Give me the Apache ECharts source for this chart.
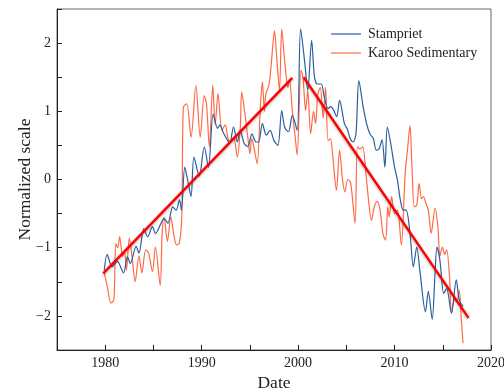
<!DOCTYPE html>
<html>
<head>
<meta charset="utf-8">
<script src="https://cdn.jsdelivr.net/npm/echarts@6/dist/echarts.min.js"></script>
<style>
  html, body { margin: 0; padding: 0; background: #fff; }
  #chart { width: 504px; height: 392px; }
</style>
</head>
<body>
<div id="chart"></div>
<script>
// [year, normalized value]
const stampriet = [
  [1979.9, -1.33], [1980.2, -1.10], [1980.7, -1.28], [1981.25, -1.20], [1981.9, -1.37],
  [1982.3, -1.13], [1982.6, -1.23], [1983.2, -0.98], [1983.5, -1.08], [1984.0, -0.72],
  [1984.4, -0.84], [1984.9, -0.69], [1985.2, -0.79], [1985.8, -0.64], [1986.1, -0.57],
  [1986.5, -0.64], [1987.0, -0.40], [1987.35, -0.45], [1987.7, -0.30], [1987.9, -0.45],
  [1988.25, 0.18], [1988.6, -0.05], [1988.9, -0.25], [1989.2, 0.33], [1989.75, 0.05],
  [1990.27, 0.48], [1990.7, 0.18], [1991.2, 0.96], [1991.65, 0.75], [1991.9, 0.80],
  [1992.2, 0.70], [1992.5, 0.62], [1992.9, 0.53], [1993.3, 0.77], [1993.7, 0.55],
  [1994.0, 0.72], [1994.4, 0.53], [1994.8, 0.48], [1995.2, 0.67], [1995.65, 0.55],
  [1995.9, 0.55], [1996.3, 0.82], [1996.7, 0.65], [1997.1, 0.72], [1997.5, 0.57],
  [1997.9, 0.50], [1998.3, 1.01], [1998.6, 0.77], [1999.0, 0.70], [1999.4, 0.94],
  [1999.9, 0.72], [2000.26, 2.21], [2000.7, 1.70], [2001.0, 1.31], [2001.4, 2.04],
  [2001.7, 1.50], [2002.0, 1.40], [2002.4, 1.40], [2002.7, 1.22], [2003.1, 1.04],
  [2003.4, 1.07], [2003.7, 1.01], [2004.0, 0.92], [2004.3, 1.16], [2004.8, 0.82],
  [2005.1, 0.74], [2005.4, 0.60], [2005.7, 0.55], [2006.0, 0.67], [2006.3, 1.45],
  [2006.75, 1.06], [2007.1, 0.82], [2007.44, 0.67], [2007.8, 0.60], [2008.1, 0.43],
  [2008.4, 0.45], [2008.7, 0.58], [2009.0, 0.18], [2009.25, 0.77], [2009.6, 0.53],
  [2010.0, 0.18], [2010.3, -0.01], [2010.6, -0.30], [2010.9, -0.45], [2011.2, -0.45],
  [2011.6, -0.79], [2011.95, -1.28], [2012.3, -0.99], [2012.65, -1.37], [2013.2, -1.94],
  [2013.5, -1.64], [2013.9, -2.05], [2014.2, -1.37], [2014.4, -0.99], [2014.7, -1.18],
  [2015.1, -1.67], [2015.4, -1.60], [2015.9, -1.96], [2016.4, -1.47], [2016.7, -1.76],
  [2017.1, -1.86]
];

const karoo = [
  [1979.9, -1.37], [1980.2, -1.56], [1980.6, -1.81], [1980.9, -1.76], [1981.1, -0.94],
  [1981.3, -1.00], [1981.5, -0.84], [1981.8, -1.13], [1982.0, -1.05], [1982.2, -1.33],
  [1982.5, -0.86], [1982.8, -1.15], [1983.1, -1.50], [1983.5, -1.12], [1983.8, -1.37],
  [1984.2, -1.03], [1984.5, -1.08], [1984.9, -1.35], [1985.2, -0.99], [1985.7, -1.55],
  [1985.9, -0.79], [1986.1, -0.55], [1986.45, -0.91], [1986.8, -0.55], [1987.1, -0.80],
  [1987.4, -0.96], [1987.7, -0.93], [1987.95, -0.50], [1988.1, 1.06], [1988.45, 1.11],
  [1988.9, 0.62], [1989.4, 1.38], [1989.85, 0.62], [1990.27, 1.23], [1990.5, 1.11],
  [1990.8, 0.48], [1991.15, 1.38], [1991.4, 0.80], [1991.7, 1.26], [1992.1, 0.72],
  [1992.45, 0.80], [1992.7, 0.62], [1993.0, 0.55], [1993.3, 0.62], [1993.7, 0.33],
  [1994.0, 0.75], [1994.15, 1.28], [1994.5, 0.95], [1994.8, 0.60], [1995.0, 0.38],
  [1995.2, 0.60], [1995.45, 0.45], [1995.75, 0.23], [1996.1, 1.11], [1996.3, 1.43],
  [1996.5, 1.00], [1996.65, 1.25], [1997.0, 1.40], [1997.25, 1.75], [1997.55, 2.18],
  [1997.8, 1.75], [1998.07, 1.31], [1998.3, 2.21], [1998.6, 1.75], [1998.95, 1.35],
  [1999.1, 1.47], [1999.4, 1.01], [1999.7, 0.62], [1999.9, 0.36], [2000.3, 1.60],
  [2000.5, 1.50], [2000.78, 1.01], [2001.0, 1.30], [2001.3, 0.67], [2001.6, 1.00],
  [2001.8, 0.82], [2002.05, 1.25], [2002.3, 1.35], [2002.6, 0.90], [2002.85, 1.35],
  [2003.1, 0.57], [2003.35, 0.60], [2003.6, 0.33], [2003.97, -0.16], [2004.3, 0.43],
  [2004.6, 0.00], [2004.85, -0.18], [2005.15, 0.00], [2005.45, -0.05], [2005.9, -0.64],
  [2006.15, 0.48], [2006.4, 0.45], [2006.7, 0.48], [2007.0, 0.14], [2007.3, -0.30],
  [2007.6, -0.60], [2007.9, -0.40], [2008.2, -0.32], [2008.5, -0.45], [2008.8, -0.80],
  [2009.07, -0.89], [2009.3, -0.40], [2009.45, -0.55], [2009.7, -0.25], [2010.0, -0.50],
  [2010.3, -0.45], [2010.7, -0.96], [2011.1, 0.09], [2011.35, 0.45], [2011.6, 0.79],
  [2011.8, 0.20], [2012.05, -0.40], [2012.3, -0.38], [2012.55, -0.06], [2012.8, -0.28],
  [2013.0, -0.25], [2013.25, -0.35], [2013.5, -0.45], [2013.8, -0.79], [2014.2, -0.42],
  [2014.5, -0.70], [2014.7, -1.13], [2014.95, -0.99], [2015.2, -1.10], [2015.4, -1.03],
  [2015.7, -1.42], [2015.9, -1.96], [2016.2, -1.76], [2016.45, -1.80], [2016.7, -1.62],
  [2016.9, -2.00], [2017.1, -2.40]
];

// fitted trend segments
const trendRise = [[1979.8, -1.376], [1999.4, 1.49]];
const trendFall = [[2000.57, 1.50], [2017.67, -2.03]];

const font = "Liberation Serif";

const chart = echarts.init(document.getElementById("chart"), null, { renderer: "canvas" });

const trendStyle = {
  color: "#ff0000",
  width: 2.4,
  shadowColor: "rgba(0,0,0,0.35)",
  shadowBlur: 3,
  shadowOffsetY: 1,
};

chart.setOption({
  animation: false,
  grid: {
    left: 57, right: 13, top: 9, bottom: 42,
    outerBoundsMode: "none", containLabel: false,
    show: true, borderColor: "#666", borderWidth: 1,
  },
  legend: {
    orient: "vertical",
    left: 326, top: 22,
    icon: "rect",
    itemWidth: 30, itemHeight: 1.2, itemGap: 5,
    data: ["Stampriet", "Karoo Sedimentary"],
    textStyle: { fontFamily: font, fontSize: 14, color: "#222", padding: [0, 0, 0, 2] },
  },
  xAxis: {
    type: "value",
    min: 1975, max: 2020, interval: 5,
    name: "Date", nameLocation: "middle", nameGap: 24,
    nameTextStyle: { fontFamily: font, fontSize: 17.5, color: "#222" },
    axisLine: { onZero: false, lineStyle: { color: "#222" } },
    axisTick: { inside: true, length: 5, lineStyle: { color: "#222" } },
    axisLabel: {
      fontFamily: font, fontSize: 14, color: "#222", margin: 6,
      formatter: (v) => (v % 10 === 0 && v > 1975 ? String(v) : ""),
    },
    splitLine: { show: false },
  },
  yAxis: {
    type: "value",
    min: -2.5, max: 2.5, interval: 0.5,
    name: "Normalized scale", nameLocation: "middle", nameGap: 23,
    nameMoveOverlap: false,
    nameTextStyle: { fontFamily: font, fontSize: 17.5, color: "#222" },
    axisLine: { show: true, onZero: false, lineStyle: { color: "#222" } },
    axisTick: { show: true, inside: true, length: 5, lineStyle: { color: "#222" } },
    axisLabel: {
      fontFamily: font, fontSize: 14, color: "#222", margin: 6,
      formatter: (v) => (Number.isInteger(v) ? String(v).replace("-", "\u2212") : ""),
    },
    splitLine: { show: false },
  },
  series: [
    {
      name: "Stampriet", type: "line", data: stampriet,
      symbol: "none", smooth: 0.3, z: 3,
      lineStyle: { color: "#2b5f9e", width: 1.2 }, itemStyle: { color: "#2b5f9e" },
    },
    {
      name: "Karoo Sedimentary", type: "line", data: karoo,
      symbol: "none", smooth: 0.3, z: 2,
      lineStyle: { color: "#ff6a45", width: 1.2 }, itemStyle: { color: "#ff6a45" },
    },
    { type: "line", data: trendRise, symbol: "none", z: 4, lineStyle: trendStyle },
    { type: "line", data: trendFall, symbol: "none", z: 4, lineStyle: trendStyle },
  ],
});
</script>
</body>
</html>
